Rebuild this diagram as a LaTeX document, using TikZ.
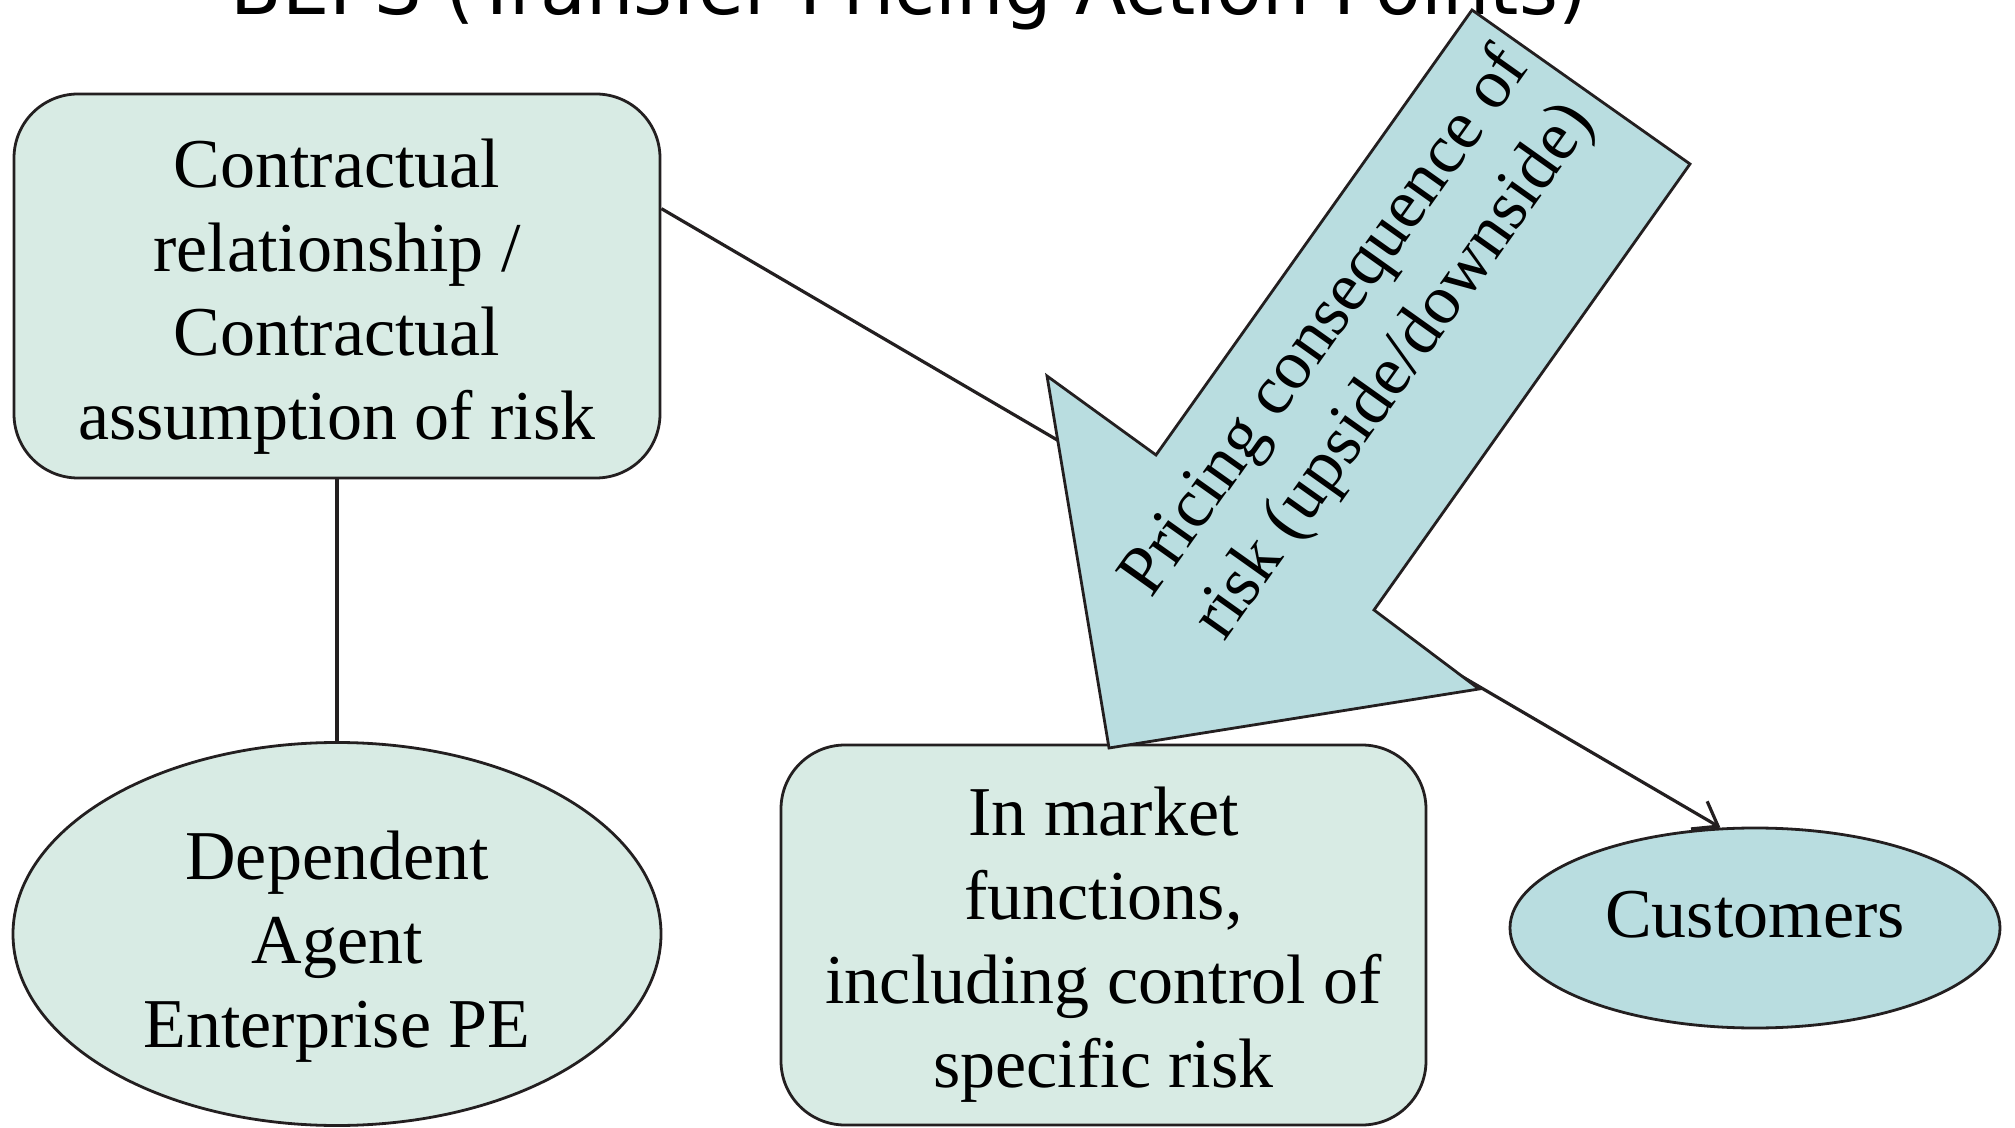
\documentclass[tikz,border=0pt]{standalone}
\usepackage{fontspec}
\setmainfont{Liberation Serif}
\newfontfamily\titlefont{DejaVu Sans}
\usetikzlibrary{shapes.geometric,arrows.meta,calc}
\definecolor{mint}{HTML}{D8EBE4}
\definecolor{teal}{HTML}{B9DDE0}
\definecolor{edge}{HTML}{231F20}
\tikzset{
  txt/.style={font=\fontsize{35}{42}\selectfont, align=center, text=black, inner sep=0pt},
  rbox/.style={draw=edge, line width=1.4pt, fill=mint, rounded corners=32pt, inner sep=0pt},
  ebox/.style={draw=edge, line width=1.4pt, ellipse, inner sep=0pt},
  conn/.style={draw=edge, line width=1.6pt},
  bigarrow/.style={draw=edge, line width=1.4pt, fill=teal, line join=miter}
}
\begin{document}
\begin{tikzpicture}[x=0.5pt, y=-0.5pt]
\useasboundingbox (0,0) rectangle (2015,1128);
\clip (0,0) rectangle (2015,1128);
\fill[white] (0,0) rectangle (2015,1128);

\node[anchor=base, font=\titlefont\fontsize{37.4}{44}\selectfont] (title) at (909,15) {BEPS (Transfer Pricing Action Points)};

\node[rbox, minimum width=323pt, minimum height=192pt] (b1) at (337,286) {};
\node[txt] (b1t) at (337,297) {Contractual\\relationship /\\Contractual\\assumption of risk};
\node[ebox, fill=mint, minimum width=324pt, minimum height=191.5pt] (dep) at (337,934) {};
\node[txt] (dept) at (337,947) {Dependent\\Agent\\Enterprise PE};
\node[rbox, minimum width=322.5pt, minimum height=190pt] (b2) at (1103.5,935) {};
\node[txt] (b2t) at (1103.5,945) {In market\\functions,\\including control of\\specific risk};
\node[ebox, fill=teal, minimum width=245pt, minimum height=100pt] (cust) at (1755,928) {};
\node[txt] (custt) at (1755,915) {Customers};

\draw[conn] (b1.south) -- (dep.north);
\draw[conn, -{Straight Barb[length=11pt,width=16pt,line width=1.6pt]}]
  ($(b1.north east)!0.3!(b1.south east)$) -- (cust.109);

\coordinate (a1) at (1472,10);
\coordinate (a2) at (1690,164);
\coordinate (a3) at (1374,610);
\coordinate (a4) at (1479,689);
\coordinate (a5) at (1109,748);
\coordinate (a6) at (1047,376);
\coordinate (a7) at (1156,455);
\path[bigarrow] (a1) -- (a2) -- (a3) -- (a4) -- (a5) -- (a6) -- (a7) -- cycle;
\node[txt, rotate=54.6] (atext) at (1361,348) {Pricing consequence of\\risk (upside/downside)};
\end{tikzpicture}
\end{document}
